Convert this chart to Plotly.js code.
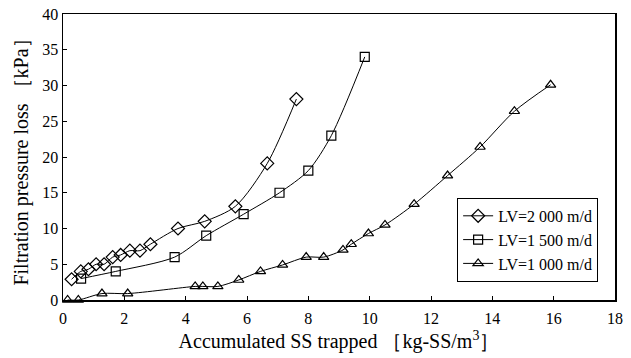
<!DOCTYPE html>
<html>
<head>
<meta charset="utf-8">
<script src="https://cdn.plot.ly/plotly-3.0.1.min.js"></script>
<style>
  html, body { margin: 0; padding: 0; background: #fff; }
  #chart { width: 631px; height: 358px; }
</style>
</head>
<body>
<div id="chart"></div>
<script>
// Accumulated SS trapped [kg-SS/m3] vs filtration pressure loss [kPa]
const x2000 = [0.28, 0.58, 0.83, 1.08, 1.34, 1.62, 1.88, 2.18, 2.51, 2.85, 3.75, 4.62, 5.62, 6.66, 7.61];
const y2000 = [2.9, 4.0, 4.3, 5.0, 5.0, 6.0, 6.3, 6.9, 6.9, 7.8, 10.0, 11.0, 13.1, 19.1, 28.1];

const x1500 = [0.59, 1.72, 3.64, 4.67, 5.89, 7.06, 8.0, 8.75, 9.84];
const y1500 = [3.0, 4.0, 6.0, 9.0, 12.0, 15.0, 18.1, 23.0, 34.0];

const x1000 = [0.15, 0.5, 1.27, 2.11, 4.31, 4.56, 5.05, 5.73, 6.44, 7.16, 7.93, 8.5, 9.13, 9.4, 9.96, 10.5, 11.45, 12.54, 13.6, 14.72, 15.9];
const y1000 = [0, 0, 0.9, 0.9, 1.9, 1.9, 1.9, 2.8, 4.0, 4.9, 6.0, 6.0, 7.0, 7.8, 9.3, 10.5, 13.4, 17.4, 21.4, 26.4, 30.1];

const seriesNames = ['LV=2 000 m/d', 'LV=1 500 m/d', 'LV=1 000 m/d'];

const serif = 'Liberation Serif, Times New Roman, serif';

function series(x, y, name, symbol, size) {
  return {
    x: x, y: y, name: name,
    type: 'scatter', mode: 'lines+markers',
    cliponaxis: false,
    line: { color: '#000', width: 1, shape: 'spline', smoothing: 0.8 },
    marker: { symbol: symbol, size: size, color: '#000', line: { color: '#000', width: 1.2 } }
  };
}

const data = [
  series(x2000, y2000, seriesNames[0], 'diamond-open', 10),
  series(x1500, y1500, seriesNames[1], 'square-open', 9),
  series(x1000, y1000, seriesNames[2], 'triangle-up-open', 9)
];

const layout = {
  width: 631, height: 358,
  margin: { l: 63, r: 16, t: 14, b: 58 },
  paper_bgcolor: '#fff', plot_bgcolor: '#fff',
  font: { family: serif, color: '#000', size: 16 },
  showlegend: true,
  legend: {
    x: 0.714, y: 0.357, xanchor: 'left', yanchor: 'top',
    bgcolor: '#fff', bordercolor: '#000', borderwidth: 1,
    font: { family: serif, size: 16, color: '#000' },
    tracegroupgap: 0, itemwidth: 30
  },
  xaxis: {
    range: [0, 18], dtick: 2, tick0: 0,
    showgrid: false, zeroline: false,
    showline: true, linecolor: '#000', linewidth: 1.5, mirror: true,
    ticks: 'inside', ticklen: 4, tickcolor: '#000', ticklabelstandoff: 3,
    tickfont: { family: serif, size: 16, color: '#000' },
    title: { text: 'Accumulated SS trapped ［kg-SS/m<sup>3</sup>］', font: { family: serif, size: 20, color: '#000' }, standoff: 8 }
  },
  yaxis: {
    range: [0, 40], dtick: 5, tick0: 0,
    showgrid: false, zeroline: false,
    showline: true, linecolor: '#000', linewidth: 1.5, mirror: true,
    ticks: 'inside', ticklen: 4, tickcolor: '#000',
    tickfont: { family: serif, size: 16, color: '#000' },
    title: { text: 'Filtration pressure loss ［kPa］', font: { family: serif, size: 20, color: '#000' }, standoff: 8 }
  }
};

Plotly.newPlot('chart', data, layout, { displayModeBar: false, staticPlot: true });
</script>
</body>
</html>
